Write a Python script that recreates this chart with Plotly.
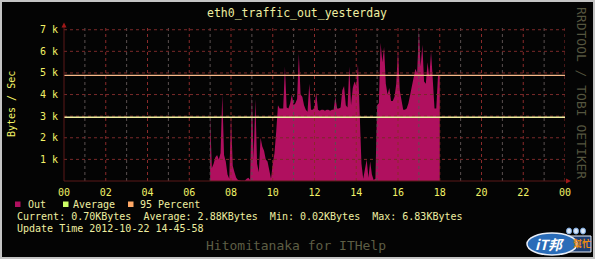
import plotly.graph_objects as go

# ---------------- data ----------------
title_text = "eth0_traffic_out_yesterday"
start_hour = 7.0          # first sample at 07:00
step_minutes = 5          # 5-minute samples
out_bytes = [
    3000, 600, 800, 1100, 1200, 1000, 1300, 4000, 1200, 900, 300, 100,
    3000, 700, 400, 150, 50, 20, 20, 20, 20, 100, 150, 50,
    4000, 1000, 3800, 800, 400, 2000, 1600, 1400, 1000, 900, 400, 100,
    800, 1300, 2300, 3500, 3350, 3350, 3350, 5300, 3400, 3350, 3600, 4000,
    3500, 3600, 3800, 5900, 4000, 3900, 3500, 3300, 3200, 4500, 3300, 3300,
    3400, 4100, 3300, 3250, 3300, 3300, 3250, 3300, 3300, 3250, 3300, 3300,
    3900, 3350, 3350, 3400, 4200, 4400, 3500, 3400, 5300, 3500, 4300, 4600,
    4400, 5400, 3300, 800, 100, 600, 1000, 150, 900, 300, 50, 100,
    3500, 3600, 6400, 5500, 6200, 4500, 4000, 4300, 3700, 3700, 3900, 4500,
    6100, 4200, 3800, 3300, 3300, 3350, 3600, 4000, 4400, 4800, 5200, 5000,
    6990, 5300, 6300, 4600, 4500, 5500, 4800, 6000, 4500, 3350, 3350, 4900,
    4900,
]
average_bytes = 2949      # 2.88 KBytes
percent95_bytes = 4890
x_tick_vals = list(range(0, 25, 2))
x_tick_text = ["00", "02", "04", "06", "08", "10", "12", "14", "16", "18", "20", "22", "00"]
y_tick_vals = [1000, 2000, 3000, 4000, 5000, 6000, 7000]
y_tick_text = ["1 k", "2 k", "3 k", "4 k", "5 k", "6 k", "7 k"]
legend_names = ["Out", "Average", "95 Percent"]
stats_line = "Current: 0.70KBytes  Average: 2.88KBytes  Min: 0.02KBytes  Max: 6.83KBytes"
update_line = "Update Time 2012-10-22 14-45-58"

hours = [start_hour + i * step_minutes / 60.0 for i in range(len(out_bytes))]

# ---------------- style ----------------
W, H = 595, 259
L, R, T, B = 64, 565, 28, 181
FONT = "DejaVu Sans Mono"
BG = "#040404"
OUT_C = "#b0105f"
AVG_C = "#ccff66"
P95_C = "#ffa866"
TXT_C = "#eeeea0"
TICK_C = "#f2f266"

def px_x(p):
    return (p - L) / (R - L)

def px_y(p):
    return (B - p) / (B - T)

fig = go.Figure()
fig.add_trace(go.Scatter(
    x=hours, y=out_bytes, mode="lines", fill="tozeroy",
    fillcolor=OUT_C, line=dict(width=0, color=OUT_C), hoverinfo="skip",
    showlegend=False,
))

shapes = []
# grid (drawn above data like rrdtool)
for h in range(1, 25):
    major = (h % 2 == 0)
    shapes.append(dict(type="line", xref="x", yref="paper", x0=h, x1=h, y0=0, y1=1,
                       line=dict(color="#8a2a2a" if major else "#5a5050", width=1, dash="dot"),
                       layer="above"))
for v in y_tick_vals:
    shapes.append(dict(type="line", xref="paper", yref="y", x0=0, x1=1, y0=v, y1=v,
                       line=dict(color="#7a2a2a", width=1, dash="dot"), layer="above"))
# average & 95 percent lines
shapes.append(dict(type="line", xref="x", yref="y", x0=0, x1=24, y0=percent95_bytes, y1=percent95_bytes,
                   line=dict(color="#f8b888", width=1.3), layer="above"))
shapes.append(dict(type="line", xref="x", yref="y", x0=0, x1=24, y0=average_bytes, y1=average_bytes,
                   line=dict(color="#f0f0a0", width=1.3), layer="above"))
# axis lines
shapes.append(dict(type="line", xref="paper", yref="paper", x0=0, x1=px_x(568), y0=0, y1=0,
                   line=dict(color="#5a1818", width=1), layer="above"))
shapes.append(dict(type="line", xref="paper", yref="paper", x0=0, x1=0, y0=0, y1=px_y(25),
                   line=dict(color="#5a1818", width=1), layer="above"))
# arrows
shapes.append(dict(type="path", xref="paper", yref="paper",
                   path=f"M {px_x(61.5)} {px_y(27.5)} L {px_x(66.5)} {px_y(27.5)} L {px_x(64)} {px_y(22.5)} Z",
                   fillcolor="#a01818", line=dict(width=0), layer="above"))
shapes.append(dict(type="path", xref="paper", yref="paper",
                   path=f"M {px_x(566)} {px_y(178.5)} L {px_x(566)} {px_y(183.5)} L {px_x(571)} {px_y(181)} Z",
                   fillcolor="#a01818", line=dict(width=0), layer="above"))
# legend boxes
for x0, c in [(15, OUT_C), (63, AVG_C), (128, P95_C)]:
    shapes.append(dict(type="rect", xref="paper", yref="paper",
                       x0=px_x(x0), x1=px_x(x0 + 5.5), y0=px_y(207), y1=px_y(201.5),
                       fillcolor=c, line=dict(width=0)))
# frame
shapes.append(dict(type="rect", xref="paper", yref="paper",
                   x0=px_x(1), x1=px_x(W - 1), y0=px_y(1), y1=px_y(H - 1),
                   line=dict(color="#c4c4c4", width=2)))
# logo approximation
shapes.append(dict(type="rect", xref="paper", yref="paper",
                   x0=px_x(562), x1=px_x(591), y0=px_y(252), y1=px_y(236),
                   fillcolor="#1d3f74", line=dict(color="#e8eef8", width=1)))
shapes.append(dict(type="circle", xref="paper", yref="paper",
                   x0=px_x(527), x1=px_x(577), y0=px_y(255), y1=px_y(233),
                   fillcolor="#2a6cb8", line=dict(color="#e8eef8", width=1.5)))
for cx in [569, 576, 583]:
    shapes.append(dict(type="circle", xref="paper", yref="paper",
                       x0=px_x(cx - 2.5), x1=px_x(cx + 2.5), y0=px_y(234), y1=px_y(228),
                       fillcolor="#dbe8f8", line=dict(color="#7aa6dc", width=1)))

ann = []
def text(x, y, s, size=10, color=TXT_C, xanchor="left", angle=0, family=FONT):
    ann.append(dict(x=px_x(x), y=px_y(y), xref="paper", yref="paper", text=s, showarrow=False,
                    xanchor=xanchor, yanchor="middle", textangle=angle,
                    font=dict(family=family, size=size, color=color)))

text(297, 13, title_text, size=11.5, xanchor="center")
text(11, 104, "Bytes / Sec", size=10, color=TICK_C, xanchor="center", angle=-90)
text(582, 93, "RRDTOOL / TOBI OETIKER", size=13, color="#55553f", xanchor="center", angle=90)
text(26, 204.5, legend_names[0])
text(70.5, 204.5, legend_names[1])
text(137.5, 204.5, legend_names[2])
text(14.5, 216.5, stats_line)
text(14.5, 228.5, update_line)
text(296, 245.5, "Hitomitanaka for ITHelp", size=13, color="#5e5e44", xanchor="center")
text(550, 244, "<b><i>iT邦</i></b>", size=14, color="#ffffff", xanchor="center",
     family="Noto Sans CJK TC")
text(582, 244, "<b>幫忙</b>", size=9, color="#f08c10", xanchor="center", family="Noto Sans CJK TC")

fig.update_layout(
    width=W, height=H,
    margin=dict(l=L, r=W - R, t=T, b=H - B, pad=0),
    paper_bgcolor=BG, plot_bgcolor=BG,
    shapes=shapes, annotations=ann, showlegend=False,
    font=dict(family=FONT, size=10, color=TXT_C),
    xaxis=dict(range=[0, 24], tickvals=x_tick_vals, ticktext=x_tick_text,
               showgrid=False, zeroline=False, showline=False, ticks="",
               tickfont=dict(family=FONT, size=10, color=TICK_C), ticklabelstandoff=4,
               fixedrange=True),
    yaxis=dict(range=[0, 7080], tickvals=y_tick_vals, ticktext=y_tick_text,
               showgrid=False, zeroline=False, showline=False, ticks="",
               tickfont=dict(family=FONT, size=10, color=TICK_C), ticklabelstandoff=5,
               fixedrange=True),
)

fig.write_html("out.html", config={"displayModeBar": False})
